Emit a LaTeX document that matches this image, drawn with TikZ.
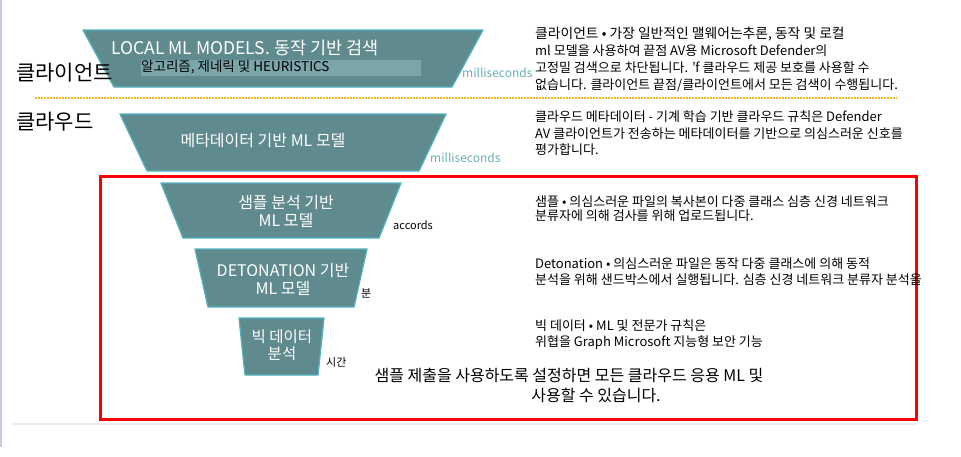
\documentclass[tikz,border=0pt]{standalone}
\usepackage{fontspec}
\setmainfont{Noto Sans CJK KR}
\usepackage{tikz}
\usetikzlibrary{positioning}
\definecolor{fFill}{HTML}{5F8A8E}
\definecolor{fEdge}{HTML}{52B2BE}
\definecolor{fStrip}{HTML}{7AA6AA}
\definecolor{msTeal}{HTML}{6AAFB5}
\definecolor{dotGold}{HTML}{F5BA1A}
\definecolor{boxRed}{HTML}{FF0000}
\definecolor{sideLine}{HTML}{C5CCDD}
\definecolor{baseGray}{HTML}{EBEBEB}
\begin{document}
\begin{tikzpicture}[x=1pt, y=-1pt,
      funnel/.style={draw=fEdge, fill=fFill, line width=1.3pt, line join=round},
      ftext/.style={text=white, font=\fontsize{16}{18}\selectfont, align=center, inner sep=0pt},
      desc/.style={anchor=west, align=left, inner sep=0pt, font=\fontsize{13}{#1}\selectfont},
      ms/.style={text=msTeal, anchor=west, inner sep=0pt, font=\fontsize{12}{14}\selectfont},
      side/.style={anchor=west, inner sep=0pt, font=\fontsize{21}{22}\selectfont},
      tag/.style={anchor=west, inner sep=0pt, font=\fontsize{11}{13}\selectfont},
      note/.style={inner sep=0pt, font=\fontsize{16}{18}\selectfont}]
    \useasboundingbox (0,0) rectangle (961,456);
    \draw[sideLine, line width=1.2pt] (1,0) -- (1,447);
    \draw[baseGray, line width=1.5pt] (11,424) -- (917,424);
    \foreach \cx/\top/\bot/\tw/\bw in {283/30/87/400/338, 283/114/171/326/272,
        281/183/238/240/196, 281/249/307/172/146, 281.5/318/375/85/73} {
      \draw[funnel] (\cx-\tw/2,\top) -- (\cx+\tw/2,\top) -- (\cx+\bw/2,\bot)
        -- (\cx-\bw/2,\bot) -- cycle;
    }
    \node[fill=fStrip, minimum width=280pt, minimum height=16pt, inner sep=0pt] (strip) at (281,68) {};
    \node[ftext, font=\fontsize{17.5}{20}\selectfont] (localT) at (245,48) {LOCAL ML MODELS. 동작 기반 검색};
    \node[anchor=west, inner sep=0pt, font=\fontsize{13.5}{15}\selectfont] (localS) at (141,67) {알고리즘, 제네릭 및 HEURISTICS};
    \node[ftext] (metaT) at (263,141) {메타데이터 기반 ML 모델};
    \node[ftext] (sampleT) at (286,211) {샘플 분석 기반\\ML 모델};
    \node[ftext] (detoT) at (283,279) {DETONATION 기반\\ML 모델};
    \node[ftext, font=\fontsize{15.5}{17}\selectfont] (bigT) at (282,345) {빅 데이터\\분석};
    \node[ms] (ms1) at (462,73) {milliseconds};
    \node[ms] (ms2) at (430,158) {milliseconds};
    \node[tag] (accords) at (393,225) {accords};
    \node[tag] (bun) at (361,293) {분};
    \node[tag] (sigan) at (326,362) {시간};
    \node[side] (client) at (16,73) {클라이언트};
    \node[side] (cloud) at (16,122) {클라우드};
    \draw[dotGold, line width=2.4pt, dash pattern=on 1.5pt off 1.5pt] (35,98) -- (897,98);
    \node[desc=17] (clientD) at (535,59.5) {\fontsize{13.8}{17}\selectfont 클라이언트 • 가장 일반적인 맬웨어는추론, 동작 및 로컬\\
      ml 모델을 사용하여 끝점 AV용 Microsoft Defender의\\
      고정밀 검색으로 차단됩니다. 'f 클라우드 제공 보호를 사용할 수\\
      없습니다. 클라이언트 끝점/클라이언트에서 모든 검색이 수행됩니다.};
    \node[desc=16.5] (cloudD) at (535,133.5) {클라우드 메타데이터 - 기계 학습 기반 클라우드 규칙은 Defender\\
      AV 클라이언트가 전송하는 메타데이터를 기반으로 의심스러운 신호를\\
      평가합니다.};
    \draw[boxRed, line width=3pt] (100,176) rectangle (916,419);
    \node[desc=14] (sampleD) at (535,208.5) {샘플 • 의심스러운 파일의 복사본이 다중 클래스 심층 신경 네트워크\\
      분류자에 의해 검사를 위해 업로드됩니다.};
    \node[desc=15.5] (detoD) at (535,271.5) {Detonation • 의심스러운 파일은 동작 다중 클래스에 의해 동적\\
      분석을 위해 샌드박스에서 실행됩니다. 심층 신경 네트워크 분류자 분석을};
    \node[desc=16] (bigD) at (535,335) {빅 데이터 • ML 및 전문가 규칙은\\
      위협을 Graph Microsoft 지능형 보안 기능};
    \node[note] (note1) at (569,375) {샘플 제출을 사용하도록 설정하면 모든 클라우드 응용 ML 및};
    \node[note] (note2) at (596,395) {사용할 수 있습니다.};
\end{tikzpicture}
\end{document}
